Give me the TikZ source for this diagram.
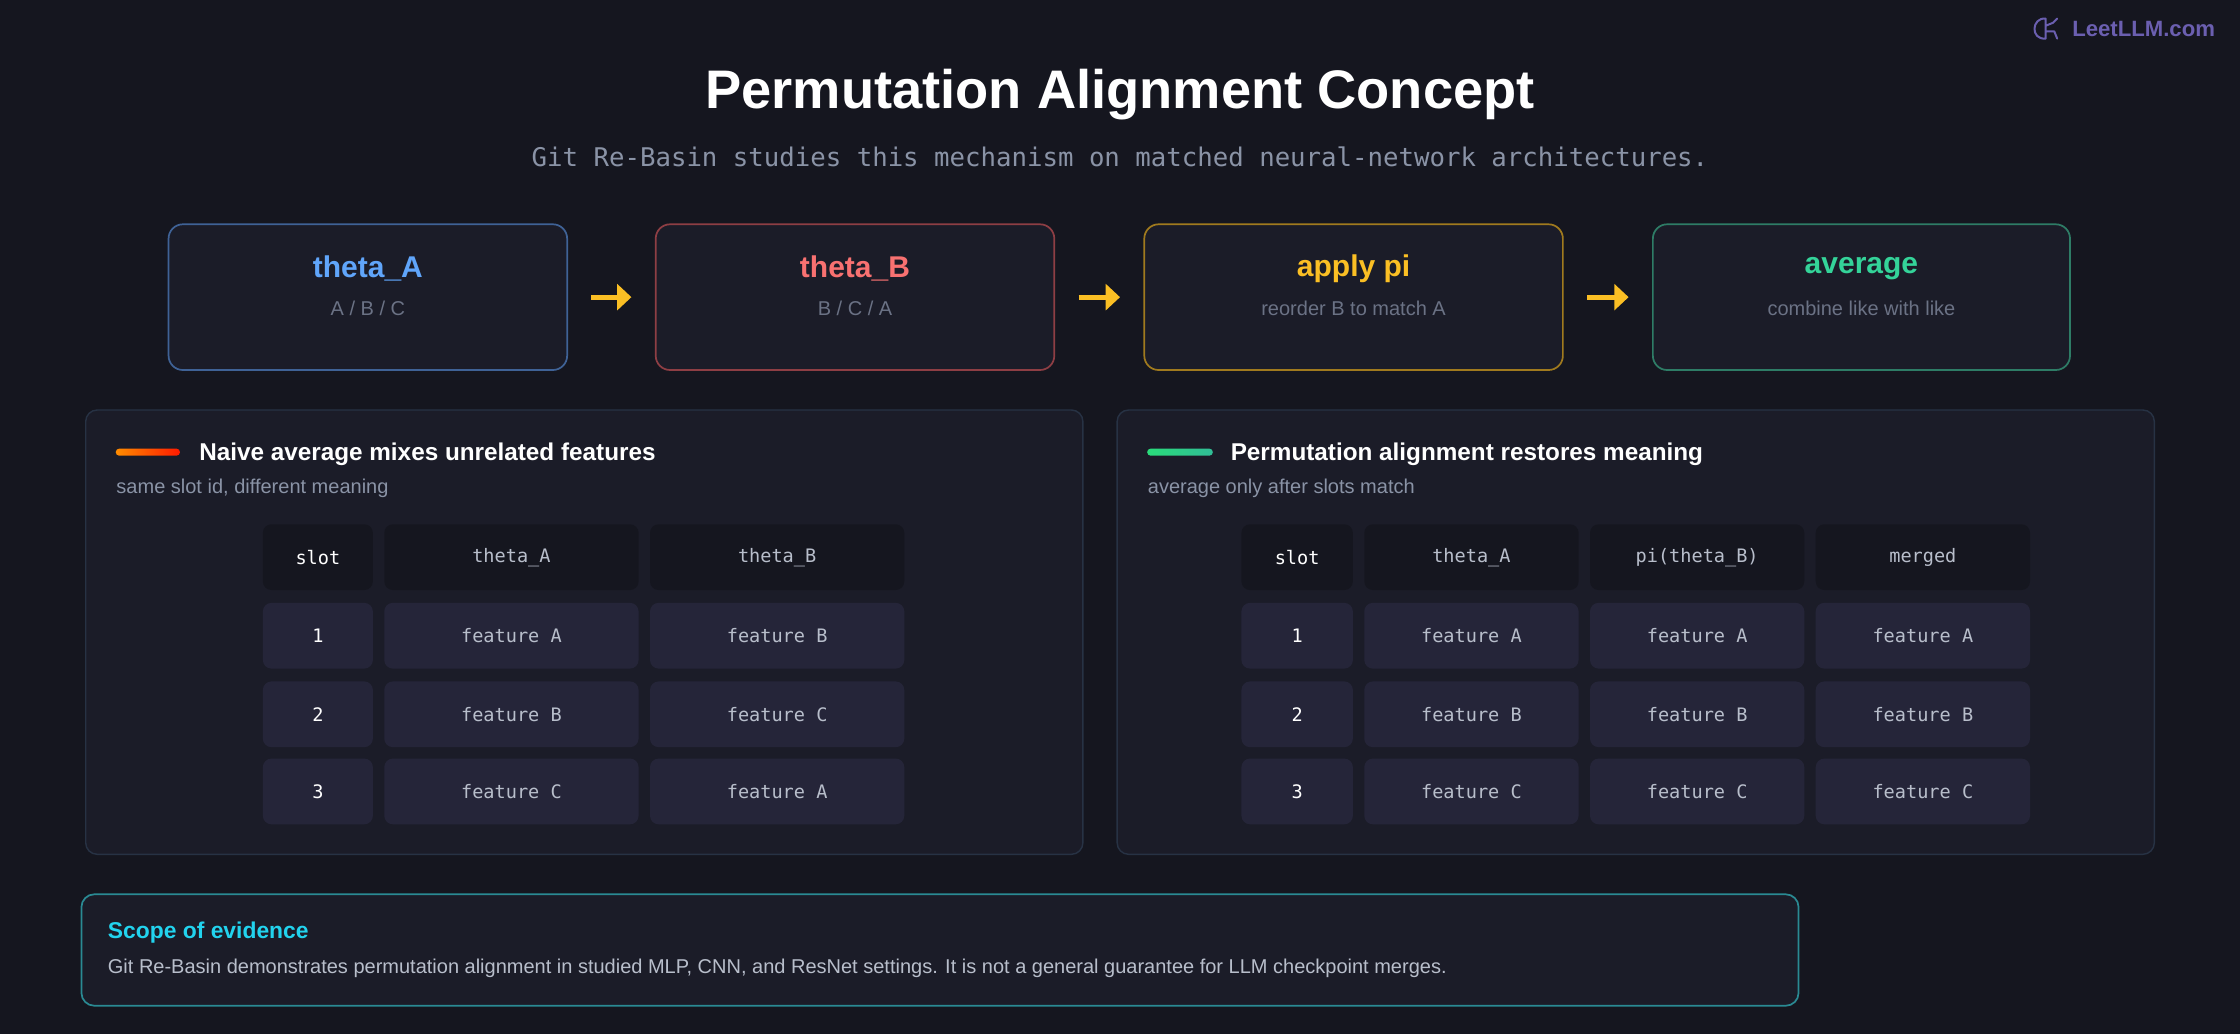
\documentclass[tikz,border=0pt]{standalone}
\usepackage{fontspec}
\setmainfont{Liberation Sans}
\newfontfamily\monof{DejaVu Sans Mono}
\usetikzlibrary{arrows.meta}
\definecolor{bg}{HTML}{15161F}
\definecolor{boxbg}{HTML}{1B1C28}
\definecolor{pborder}{HTML}{273244}
\definecolor{hdrc}{HTML}{15161F}
\definecolor{rowc}{HTML}{252539}
\definecolor{grayt}{HTML}{8A93A6}
\definecolor{dimt}{HTML}{6B7285}
\definecolor{cA}{HTML}{60A5FA}
\definecolor{cB}{HTML}{F87171}
\definecolor{cP}{HTML}{FBBF24}
\definecolor{cM}{HTML}{34D399}
\definecolor{bA}{HTML}{3F6296}
\definecolor{bB}{HTML}{8E3E44}
\definecolor{bP}{HTML}{A07A1E}
\definecolor{bM}{HTML}{2E7C66}
\definecolor{teal}{HTML}{2A8A93}
\definecolor{cyant}{HTML}{22D3EE}
\definecolor{purp}{HTML}{6B5FB0}
\definecolor{cellt}{HTML}{B8BECB}
\tikzset{
 flow/.style={draw, line width=1.2pt, rounded corners=10pt, fill=boxbg},
 panel/.style={draw=pborder, line width=1pt, rounded corners=8pt, fill=boxbg},
 hcell/.style={fill=hdrc, rounded corners=6pt},
 rcell/.style={fill=rowc, rounded corners=6pt},
 ctext/.style={text=cellt, font=\monof\fontsize{13}{15}\selectfont},
 arr/.style={-{Triangle[length=10pt,width=18pt]}, line width=3.5pt, draw=cP},
}
\begin{document}
\begin{tikzpicture}[x=1pt,y=-1pt]
\path[fill=bg] (0,0) rectangle (1568,724);
\useasboundingbox (0,0) rectangle (1568,724);
\node[text=purp, font=\bfseries\fontsize{15.5}{18}\selectfont, anchor=east] (wm) at (1554,20) {LeetLLM.com};
\draw[purp, line width=1.4pt, line cap=round, line join=round]
  (1432,13) .. controls (1422,12) and (1421,28) .. (1432,27)
  (1432,13) -- (1432,27)
  (1432,18) -- (1437,16) -- (1440,13)
  (1432,22) -- (1438,22) -- (1440,27);
\node[text=white, font=\bfseries\fontsize{38}{44}\selectfont] (title) at (784,66) {Permutation Alignment Concept};
\node[text=grayt, font=\monof\fontsize{18}{20}\selectfont] (sub) at (784,110) {Git Re-Basin studies this mechanism on matched neural-network architectures.};
% flow boxes
\foreach \n/\xa/\xb/\bc/\tc/\t/\s in {a/118/397/bA/cA/theta\_A/{A / B / C}, b/459/738/bB/cB/theta\_B/{B / C / A}, p/801/1094/bP/cP/apply pi/reorder B to match A, m/1157/1449/bM/cM/average/combine like with like}{
  \draw[flow, draw=\bc] (\xa,157) rectangle (\xb,259);
  \node[text=\tc, font=\bfseries\fontsize{21}{24}\selectfont] (t\n) at ({(\xa+\xb)/2},188) {\t};
  \node[text=dimt, font=\fontsize{14}{16}\selectfont] (s\n) at ({(\xa+\xb)/2},216) {\s};
  \coordinate (L\n) at (\xa,208); \coordinate (R\n) at (\xb,208);
}
\draw[arr] ([xshift=17pt]Ra) -- ([xshift=-17pt]Lb);
\draw[arr] ([xshift=17pt]Rb) -- ([xshift=-17pt]Lp);
\draw[arr] ([xshift=17pt]Rp) -- ([xshift=-17pt]Lm);
% panels
\draw[panel] (60,287) rectangle (758,598);
\draw[panel] (782,287) rectangle (1508,598);
\shade[left color=orange!90!yellow, right color=red!80!orange, rounded corners=2.5pt] (81,314) rectangle (126,319);
\shade[left color=cM!80!green, right color=cM!70!teal, rounded corners=2.5pt] (803,314) rectangle (849,319);
\node[text=white, font=\bfseries\fontsize{17}{20}\selectfont, anchor=west] (h1) at (136,318) {Naive average mixes unrelated features};
\node[text=grayt, font=\fontsize{14}{16}\selectfont, anchor=west] (d1) at (78,342) {same slot id, different meaning};
\node[text=white, font=\bfseries\fontsize{17}{20}\selectfont, anchor=west] (h2) at (858,318) {Permutation alignment restores meaning};
\node[text=grayt, font=\fontsize{14}{16}\selectfont, anchor=west] (d2) at (800,342) {average only after slots match};
% left table
\foreach \xa/\xb/\t [count=\i] in {184/261/slot,269/447/theta\_A,455/633/theta\_B}{
  \fill[hcell] (\xa,367) rectangle (\xb,413);
  \node[ctext, text={\ifnum\i=1 white\else cellt\fi}] (lh\i) at ({(\xa+\xb)/2},390) {\t};
}
\foreach \ya/\yb/\s/\fa/\fb in {422/468/1/A/B, 477/523/2/B/C, 531/577/3/C/A}{
  \fill[rcell] (184,\ya) rectangle (261,\yb);
  \fill[rcell] (269,\ya) rectangle (447,\yb);
  \fill[rcell] (455,\ya) rectangle (633,\yb);
  \node[ctext, text=white] (ls\s) at (222.5,{(\ya+\yb)/2}) {\s};
  \node[ctext] (la\s) at (358,{(\ya+\yb)/2}) {feature \fa};
  \node[ctext] (lb\s) at (544,{(\ya+\yb)/2}) {feature \fb};
}
% right table
\foreach \xa/\xb/\t [count=\i] in {869/947/slot,955/1105/theta\_A,1113/1263/pi(theta\_B),1271/1421/merged}{
  \fill[hcell] (\xa,367) rectangle (\xb,413);
  \node[ctext, text={\ifnum\i=1 white\else cellt\fi}] (rh\i) at ({(\xa+\xb)/2},390) {\t};
}
\foreach \ya/\yb/\s/\f in {422/468/1/A, 477/523/2/B, 531/577/3/C}{
  \fill[rcell] (869,\ya) rectangle (947,\yb);
  \node[ctext, text=white] (rs\s) at (908,{(\ya+\yb)/2}) {\s};
  \foreach \xa/\xb [count=\j] in {955/1105,1113/1263,1271/1421}{
    \fill[rcell] (\xa,\ya) rectangle (\xb,\yb);
    \node[ctext] (r\s\j) at ({(\xa+\xb)/2},{(\ya+\yb)/2}) {feature \f};
  }
}
% bottom
\draw[draw=teal, line width=1.2pt, rounded corners=9pt, fill=boxbg] (57,626) rectangle (1259,704);
\node[text=cyant, font=\bfseries\fontsize{16}{19}\selectfont, anchor=west] (sc) at (72,653) {Scope of evidence};
\node[text=cellt, font=\fontsize{14}{16}\selectfont, anchor=west] (sct) at (72,678) {Git Re-Basin demonstrates permutation alignment in studied MLP, CNN, and ResNet settings. It is not a general guarantee for LLM checkpoint merges.};
\end{tikzpicture}
\end{document}
